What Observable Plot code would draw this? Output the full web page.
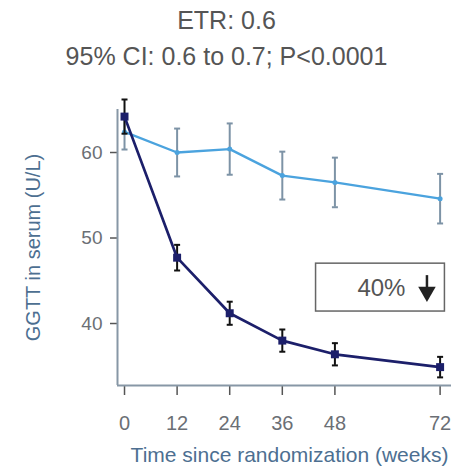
<!DOCTYPE html>
<html><head><meta charset="utf-8">
<script src="https://cdn.jsdelivr.net/npm/d3@7"></script>
<script src="https://cdn.jsdelivr.net/npm/@observablehq/plot@0.6"></script>
<style>
body{margin:0;background:#fff;font-family:"Liberation Sans",Arial,sans-serif;}
#t1{height:38px;line-height:40px;text-align:center;font-size:25px;color:#555;}
#t2{height:42px;line-height:37px;text-align:center;font-size:25px;color:#555;}
#chart svg{display:block;}
</style></head><body>
<div id="t1">ETR: 0.6</div>
<div id="t2">95% CI: 0.6 to 0.7; P&lt;0.0001</div>
<div id="chart"></div>
<script>
// Data
const weeks = [0, 12, 24, 36, 48, 72];
const controlMean = [62.4, 60.0, 60.4, 57.3, 56.5, 54.6];
const controlErr = [2.05, 2.8, 3.0, 2.8, 2.9, 2.9];
const treatedMean = [64.2, 47.7, 41.2, 38.0, 36.4, 34.9];
const treatedErr = [2.0, 1.5, 1.35, 1.3, 1.3, 1.2];
const xTicks = [0, 12, 24, 36, 48, 72];
const yTicks = [40, 50, 60];
const xLabel = "Time since randomization (weeks)";
const yLabel = "GGTT in serum (U/L)";
const boxText = ["40%"];
const boxX = [43.7, 73.1];
const boxY = [41.4, 47.0];
const textPos = [64.1, 44.1];
const arrowX = [69.0];
const arrowY = [45.6, 43.7];

const xDomain = [-1.6, 74.6];
const yDomain = [32.75, 65.03];

const control = weeks.map((w, i) => ({w, m: controlMean[i], lo: controlMean[i] - controlErr[i], hi: controlMean[i] + controlErr[i]}));
const treated = weeks.map((w, i) => ({w, m: treatedMean[i], lo: treatedMean[i] - treatedErr[i], hi: treatedMean[i] + treatedErr[i]}));
const capEnds = (rows) => rows.flatMap(d => [{w: d.w, v: d.lo}, {w: d.w, v: d.hi}]);

const cap = {draw(ctx, size) { const r = Math.sqrt(size / Math.PI); ctx.moveTo(-r, 0); ctx.lineTo(r, 0); }};

const light = "#4ba3de";
const lightErr = "#7d93a6";
const dark = "#1c1f6a";
const axisCol = "#8797a6";
const tickTextCol = "#6b6f75";
const labelCol = "#4d6f91";

const chart = Plot.plot({
  width: 453,
  height: 386,
  marginLeft: 117,
  marginRight: 2,
  marginTop: 29,
  marginBottom: 81,
  style: {fontFamily: "Liberation Sans, Arial, sans-serif", background: "#fff"},
  x: {domain: xDomain},
  y: {domain: yDomain},
  marks: [
    Plot.axisX({ticks: xTicks, tickSize: 10, tickPadding: 20, fontSize: 20, color: tickTextCol, stroke: "#555", strokeWidth: 1.5, label: null}),
    Plot.axisY({ticks: yTicks, tickSize: 7, tickPadding: 8, fontSize: 19, color: tickTextCol, stroke: "#555", strokeWidth: 1.5, label: null}),
    Plot.ruleY([yDomain[0]], {stroke: axisCol, strokeWidth: 2}),
    Plot.ruleX([xDomain[0]], {stroke: axisCol, strokeWidth: 2}),
    // annotation box
    Plot.rect([{x1: boxX[0], x2: boxX[1], y1: boxY[0], y2: boxY[1]}], {x1: "x1", x2: "x2", y1: "y1", y2: "y2", fill: "#fff", stroke: "#666", strokeWidth: 1.5}),
    Plot.text(boxText, {x: () => textPos[0], y: () => textPos[1], text: d => d, textAnchor: "end", fontSize: 24, fill: "#555"}),
    Plot.ruleX(arrowX, {x: d => d, y1: arrowY[0], y2: arrowY[1], stroke: "#222", strokeWidth: 2.5}),
    Plot.dot(arrowX, {x: d => d, y: () => arrowY[1], symbol: "triangle", r: 6.5, rotate: 180, fill: "#222"}),
    // control series
    Plot.ruleX(control, {x: "w", y1: "lo", y2: "hi", stroke: lightErr, strokeWidth: 2}),
    Plot.dot(capEnds(control), {x: "w", y: "v", symbol: cap, r: 3, stroke: lightErr, strokeWidth: 2}),
    Plot.line(control, {x: "w", y: "m", stroke: light, strokeWidth: 2.4}),
    Plot.dot(control, {x: "w", y: "m", r: 2.5, fill: light}),
    // treated series
    Plot.ruleX(treated, {x: "w", y1: "lo", y2: "hi", stroke: "#111", strokeWidth: 2}),
    Plot.dot(capEnds(treated), {x: "w", y: "v", symbol: cap, r: 3, stroke: "#111", strokeWidth: 2}),
    Plot.line(treated, {x: "w", y: "m", stroke: dark, strokeWidth: 2.7}),
    Plot.dot(treated, {x: "w", y: "m", symbol: "square", r: 4.5, fill: dark}),
    // axis titles
    Plot.text([yLabel], {frameAnchor: "left", dx: -84, rotate: -90, text: d => d, fontSize: 20, fill: labelCol, textAnchor: "middle", lineAnchor: "middle"}),
    Plot.text([xLabel], {frameAnchor: "bottom", dx: 5, dy: 70, text: d => d, fontSize: 21, fill: labelCol, textAnchor: "middle", lineAnchor: "middle"})
  ]
});
document.getElementById("chart").append(chart);
</script>
</body></html>
